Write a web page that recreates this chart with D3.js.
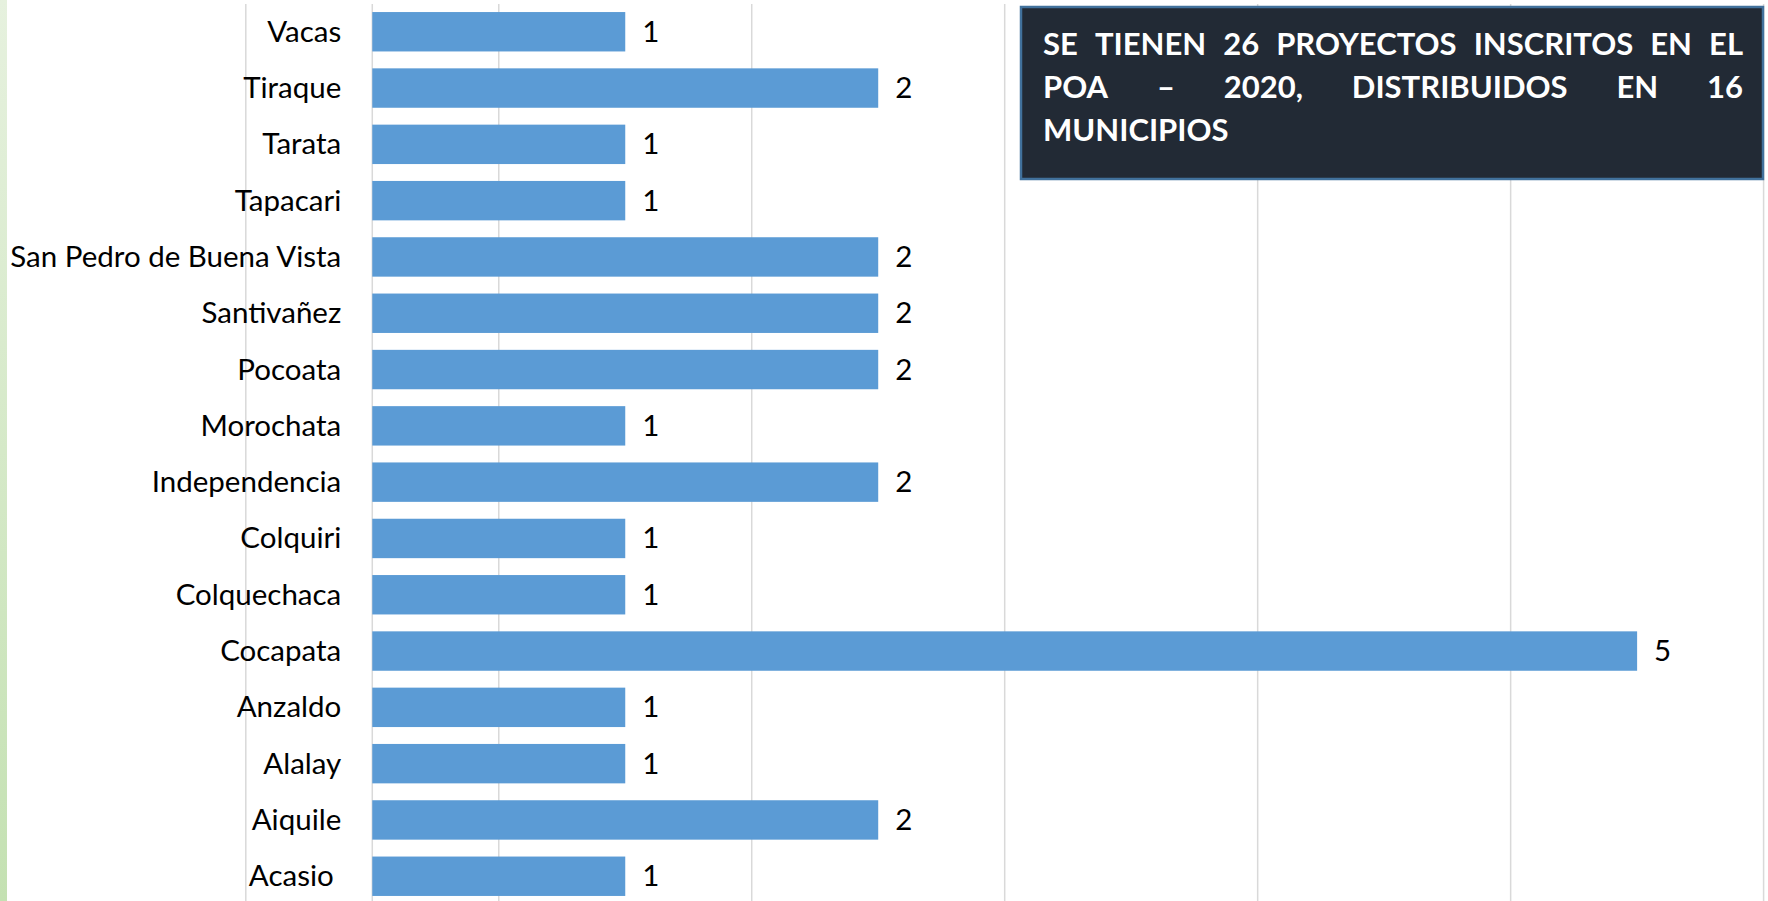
<!DOCTYPE html>
<html><head><meta charset="utf-8">
<script src="https://cdn.jsdelivr.net/npm/d3@7"></script>
<style>html,body{margin:0;padding:0;background:#fff;overflow:hidden}</style>
</head><body>
<svg id="c" width="1768" height="901"></svg>
<script>
const categories = ["Vacas","Tiraque","Tarata","Tapacari","San Pedro de Buena Vista","Santivañez","Pocoata","Morochata","Independencia","Colquiri","Colquechaca","Cocapata","Anzaldo","Alalay","Aiquile","Acasio "];
const values = [1,2,1,1,2,2,2,1,2,1,1,5,1,1,2,1];
const gridTicks = [-0.5,0.5,1.5,2.5,3.5,4.5,5.5];
const noteLines = ["SE TIENEN 26 PROYECTOS INSCRITOS EN EL","POA – 2020, DISTRIBUIDOS EN 16","MUNICIPIOS"];

const svg = d3.select("#c");
const W = 1768, H = 901;
const FONT = "Lato, 'Open Sans', sans-serif";

// left green strip
const defs = svg.append("defs");
const g1 = defs.append("linearGradient").attr("id","gs").attr("x1",0).attr("y1",0).attr("x2",0).attr("y2",1);
g1.append("stop").attr("offset","0%").attr("stop-color","#E6F1DE");
g1.append("stop").attr("offset","100%").attr("stop-color","#C4E1B2");
svg.append("rect").attr("x",0).attr("y",0).attr("width",7).attr("height",H).attr("fill","url(#gs)");

const x = d3.scaleLinear().domain([-0.5,5.5]).range([245.8,1763.6]);
const y = d3.scaleBand().domain(categories).range([3.6,904.4]).paddingInner(0.3).paddingOuter(0.15);

// gridlines
svg.append("g").selectAll("line").data(gridTicks).join("line")
  .attr("x1",d=>x(d)).attr("x2",d=>x(d)).attr("y1",4).attr("y2",H)
  .attr("stroke","#D9D9D9").attr("stroke-width",1.5);
// category axis line
svg.append("line").attr("x1",x(0)).attr("x2",x(0)).attr("y1",4).attr("y2",H)
  .attr("stroke","#D9D9D9").attr("stroke-width",1.5);

// bars
svg.append("g").selectAll("rect").data(categories).join("rect")
  .attr("x",x(0)).attr("y",d=>y(d)).attr("width",(d,i)=>x(values[i])-x(0)).attr("height",y.bandwidth())
  .attr("fill","#5B9BD5");

// value labels
svg.append("g").selectAll("text").data(categories).join("text")
  .attr("x",(d,i)=>x(values[i])+17).attr("y",d=>y(d)+y.bandwidth()/2+10)
  .attr("font-family",FONT).attr("font-size",29.5).attr("fill","#000")
  .text((d,i)=>values[i]);

// category labels
svg.append("g").selectAll("text").data(categories).join("text")
  .attr("x",x(0)-31).attr("y",d=>y(d)+y.bandwidth()/2+10)
  .attr("text-anchor","end").attr("font-family",FONT).attr("font-size",29.5).attr("fill","#000")
  .style("white-space","pre")
  .text(d=>d);

// note box
svg.append("rect").attr("x",1021).attr("y",7).attr("width",742).attr("height",172)
  .attr("fill","#222A35").attr("stroke","#41719C").attr("stroke-width",2.5);
const tx0 = 1043, tx1 = 1743, base0 = 55, lh = 43;
noteLines.forEach((line,li)=>{
  const words = line.split(" ");
  const gl = svg.append("g");
  const ts = words.map(w=>gl.append("text").attr("y",base0+li*lh)
      .attr("font-family",FONT).attr("font-size",31).attr("font-weight","bold").attr("fill","#fff").text(w));
  const widths = ts.map(t=>t.node().getComputedTextLength());
  const sum = d3.sum(widths);
  const last = li===noteLines.length-1;
  const gap = last ? 8 : (tx1-tx0-sum)/(words.length-1);
  let cx = tx0;
  ts.forEach((t,i)=>{ t.attr("x",cx); cx += widths[i]+gap; });
});
</script>
</body></html>
